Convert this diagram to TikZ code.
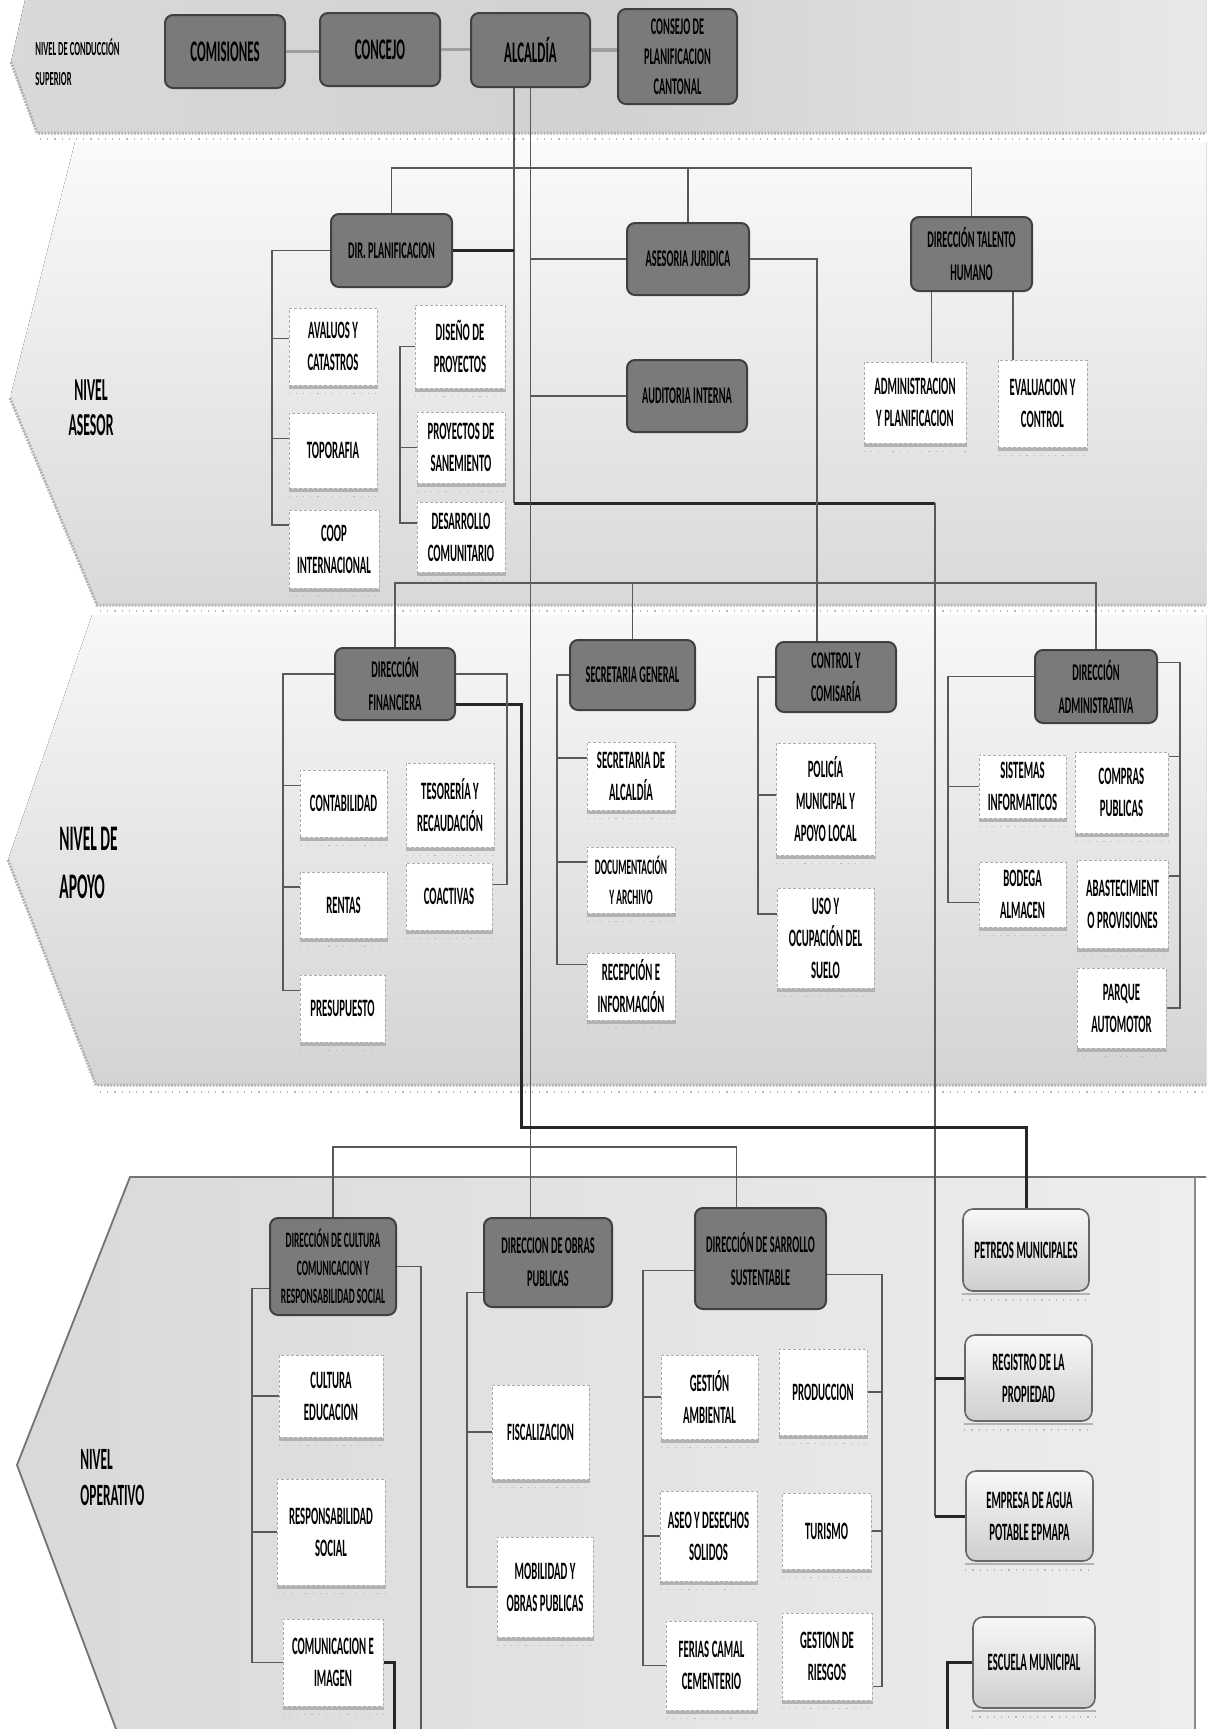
\documentclass[tikz,border=0pt]{standalone}
\usepackage{fontspec}
\setmainfont{Carlito}[FakeStretch=0.43]
\usetikzlibrary{calc}
\tikzset{
 dbox/.style={draw=black!75, line width=1pt, fill=black!52, text=black, rounded corners=4pt, align=center, inner sep=0pt, font=\bfseries\fontsize{12}{16.5}\selectfont},
 tbox/.style={dbox, font=\bfseries\fontsize{15}{18}\selectfont},
 wbox/.style={draw=gray!65, dash pattern=on 1.5pt off 1pt, line width=0.5pt, fill=white, text=black, align=center, inner sep=0pt, font=\bfseries\fontsize{12.5}{16}\selectfont},
 lbox/.style={draw=black!60, line width=0.8pt, top color=gray!6, bottom color=gray!38, text=black, rounded corners=5pt, align=center, inner sep=0pt, font=\bfseries\fontsize{12.5}{16}\selectfont},
 conn/.style={draw=black!65, line width=0.6pt},
 thk/.style={draw=black!85, line width=1.5pt},
 topc/.style={draw=gray!75, line width=1.6pt},
 banddot/.style={draw=gray!60, line width=1.5pt, dash pattern=on 0.8pt off 0.8pt},
 finedot/.style={draw=gray!55, line width=0.8pt, dash pattern=on 0.6pt off 3pt},
 lvl/.style={font=\bfseries\fontsize{16}{17.5}\selectfont, text=black, inner sep=0pt},
}
\newcommand\mkbox[7]{%
 \pgfmathsetmacro\mkW{(#5-#3)*0.5}%
 \pgfmathsetmacro\mkH{(#6-#4)*0.5}%
 \node[#1, minimum width=\mkW pt, minimum height=\mkH pt] (#2) at ({(#3+#5)/2},{(#4+#6)/2}) {#7};}
\newcommand\mkshadow[1]{%
 \draw[gray!60, line width=1.3pt] ([yshift=-1pt]#1.south west) -- ([yshift=-1pt]#1.south east);
 \draw[finedot] ([yshift=-4pt]#1.south west) -- ([yshift=-4pt]#1.south east);}
\newcommand\mkwbox[6]{\mkbox{wbox}{#1}{#2}{#3}{#4}{#5}{#6}\mkshadow{#1}}
\newcommand\mklbox[6]{\mkbox{lbox}{#1}{#2}{#3}{#4}{#5}{#6}\mkshadow{#1}}
\begin{document}
\begin{tikzpicture}[x=0.5pt,y=-0.5pt]
\useasboundingbox (0,0) rectangle (1206,1729);
\fill[white] (0,0) rectangle (1206,1729);
% ---------- bands
\fill[left color=gray!30, right color=gray!18, middle color=gray!36] (25,0) -- (1206,0) -- (1206,133) -- (37,133) -- (11,62) -- cycle;
\draw[banddot] (11,62) -- (37,133) -- (1206,133);
\draw[finedot] (40,139) -- (1206,139);
\fill[top color=gray!4, bottom color=gray!30] (75,142) -- (1206,142) -- (1206,605) -- (97,605) -- (10,398) -- cycle;
\draw[banddot] (10,398) -- (97,605) -- (1206,605);
\draw[finedot] (100,611) -- (1206,611);
\fill[top color=gray!6, bottom color=gray!34] (92,615) -- (1206,615) -- (1206,1085) -- (96,1085) -- (8,860) -- cycle;
\draw[banddot] (8,860) -- (96,1085) -- (1206,1085);
\draw[finedot] (100,1092) -- (1206,1092);
\fill[left color=gray!30, right color=gray!14] (130,1177) -- (1195,1177) -- (1195,1729) -- (116,1729) -- (17,1465) -- cycle;
\draw[black!55, line width=0.9pt] (116,1729) -- (17,1465) -- (130,1177) -- (1206,1177);
\draw[black!45, line width=0.7pt] (1195,1177) -- (1195,1729);
% ---------- level labels
\node[lvl, font=\bfseries\fontsize{10}{15}\selectfont, align=left, anchor=west] (l1) at (35,62) {NIVEL DE CONDUCCIÓN\\SUPERIOR};
\node[lvl, align=center] (l2) at (91,408) {NIVEL\\ASESOR};
\node[lvl, font=\bfseries\fontsize{18}{24}\selectfont, align=left, anchor=west] (l3) at (59,863) {NIVEL DE\\APOYO};
\node[lvl, font=\bfseries\fontsize{15.5}{18}\selectfont, align=left, anchor=west] (l4) at (80,1478) {NIVEL\\OPERATIVO};
% ---------- top level
\mkbox{tbox}{comis}{165}{15}{285}{88}{COMISIONES}
\mkbox{tbox}{concejo}{320}{13}{440}{86}{CONCEJO}
\mkbox{tbox}{alcaldia}{471}{13}{590}{87}{ALCALDÍA}
\mkbox{dbox,font=\bfseries\fontsize{12}{15}\selectfont}{consejo}{618}{9}{737}{104}{CONSEJO DE\\PLANIFICACION\\CANTONAL}
% ---------- asesor
\mkbox{dbox}{dirplan}{331}{214}{452}{287}{DIR. PLANIFICACION}
\mkbox{dbox}{asesoria}{627}{223}{749}{295}{ASESORIA JURIDICA}
\mkbox{dbox}{auditoria}{627}{360}{747}{432}{AUDITORIA INTERNA}
\mkbox{dbox}{dth}{911}{217}{1032}{291}{DIRECCIÓN TALENTO\\HUMANO}
\mkwbox{avaluos}{289}{308}{377}{385}{AVALUOS Y\\CATASTROS}
\mkwbox{topo}{289}{413}{377}{488}{TOPORAFIA}
\mkwbox{coop}{289}{510}{379}{588}{COOP\\INTERNACIONAL}
\mkwbox{diseno}{415}{305}{505}{388}{DISEÑO DE\\PROYECTOS}
\mkwbox{proysan}{417}{412}{505}{483}{PROYECTOS DE\\SANEMIENTO}
\mkwbox{desarr}{417}{502}{505}{572}{DESARROLLO\\COMUNITARIO}
\mkwbox{admplan}{864}{362}{966}{443}{ADMINISTRACION\\Y PLANIFICACION}
\mkwbox{evalctrl}{998}{360}{1087}{447}{EVALUACION Y\\CONTROL}
% ---------- apoyo
\mkbox{dbox}{dirfin}{335}{648}{455}{720}{DIRECCIÓN\\FINANCIERA}
\mkbox{dbox}{secgen}{570}{640}{695}{710}{SECRETARIA GENERAL}
\mkbox{dbox}{control}{776}{642}{896}{712}{CONTROL Y\\COMISARÍA}
\mkbox{dbox}{diradm}{1035}{650}{1157}{723}{DIRECCIÓN\\ADMINISTRATIVA}
\mkwbox{contab}{300}{770}{387}{837}{CONTABILIDAD}
\mkwbox{rentas}{300}{872}{387}{938}{RENTAS}
\mkwbox{presup}{300}{975}{385}{1042}{PRESUPUESTO}
\mkwbox{tesor}{406}{763}{494}{847}{TESORERÍA Y\\RECAUDACIÓN}
\mkwbox{coact}{406}{863}{492}{930}{COACTIVAS}
\mkwbox{secalc}{587}{742}{675}{810}{SECRETARIA DE\\ALCALDÍA}
\mkbox{wbox,font=\bfseries\fontsize{11}{15}\selectfont}{docarch}{587}{847}{675}{913}{DOCUMENTACIÓN\\Y ARCHIVO}
\mkshadow{docarch}
\mkwbox{recep}{587}{953}{675}{1020}{RECEPCIÓN E\\INFORMACIÓN}
\mkwbox{policia}{776}{743}{875}{855}{POLICÍA\\MUNICIPAL Y\\APOYO LOCAL}
\mkwbox{uso}{777}{888}{874}{988}{USO Y\\OCUPACIÓN DEL\\SUELO}
\mkwbox{sistemas}{979}{755}{1066}{818}{SISTEMAS\\INFORMATICOS}
\mkwbox{bodega}{979}{862}{1066}{927}{BODEGA\\ALMACEN}
\mkwbox{compras}{1075}{752}{1168}{833}{COMPRAS\\PUBLICAS}
\mkwbox{abast}{1077}{860}{1168}{948}{ABASTECIMIENT\\O PROVISIONES}
\mkwbox{parque}{1077}{968}{1166}{1048}{PARQUE\\AUTOMOTOR}
% ---------- operativo
\mkbox{dbox,font=\bfseries\fontsize{11}{14}\selectfont}{dircult}{270}{1218}{396}{1315}{DIRECCIÓN DE CULTURA\\COMUNICACION Y\\RESPONSABILIDAD SOCIAL}
\mkbox{dbox}{dirobras}{484}{1218}{612}{1307}{DIRECCION DE OBRAS\\PUBLICAS}
\mkbox{dbox}{dirsarr}{695}{1208}{826}{1309}{DIRECCIÓN DE SARROLLO\\SUSTENTABLE}
\mkwbox{cultedu}{279}{1355}{383}{1437}{CULTURA\\EDUCACION}
\mkwbox{respsoc}{277}{1479}{385}{1585}{RESPONSABILIDAD\\SOCIAL}
\mkwbox{comimg}{283}{1619}{383}{1706}{COMUNICACION E\\IMAGEN}
\mkwbox{fisc}{492}{1385}{589}{1479}{FISCALIZACION}
\mkwbox{movil}{497}{1537}{593}{1637}{MOBILIDAD Y\\OBRAS PUBLICAS}
\mkwbox{gestamb}{661}{1355}{758}{1439}{GESTIÓN\\AMBIENTAL}
\mkwbox{produc}{779}{1349}{867}{1435}{PRODUCCION}
\mkwbox{aseo}{660}{1491}{757}{1581}{ASEO Y DESECHOS\\SOLIDOS}
\mkwbox{turismo}{782}{1493}{871}{1569}{TURISMO}
\mkwbox{ferias}{666}{1621}{757}{1710}{FERIAS CAMAL\\CEMENTERIO}
\mkwbox{riesgos}{782}{1613}{872}{1700}{GESTION DE\\RIESGOS}
\mklbox{petreos}{963}{1209}{1089}{1291}{PETREOS MUNICIPALES}
\mklbox{registro}{965}{1335}{1092}{1421}{REGISTRO DE LA\\PROPIEDAD}
\mklbox{empresa}{966}{1471}{1093}{1561}{EMPRESA DE AGUA\\POTABLE EPMAPA}
\mklbox{escuela}{973}{1617}{1095}{1708}{ESCUELA MUNICIPAL}
% ---------- helper coordinates
\coordinate (vA) at (514,503);
\coordinate (vC) at (935,503);
\coordinate (h1) at (0,168);
\coordinate (vD) at (817,0);
\coordinate (b1) at (272,0);
\coordinate (b2) at (400,0);
\coordinate (h3) at (0,583);
\coordinate (vE) at (521,1127);
\coordinate (b3) at (283,0);
\coordinate (b4) at (507,0);
\coordinate (b5) at (557,0);
\coordinate (b6) at (758,0);
\coordinate (b7) at (948,0);
\coordinate (b8) at (1180,0);
\coordinate (h4) at (0,1147);
\coordinate (b9) at (252,0);
\coordinate (b10) at (467,0);
\coordinate (b11) at (643,0);
\coordinate (b12) at (882,0);
\coordinate (e1) at (421,1729);
\coordinate (e2) at (394,1729);
\coordinate (e3) at (947,1729);
% ---------- connectors: top
\draw[topc] (comis.east) -- (comis.east -| concejo.west);
\draw[topc] (concejo.east) -- (concejo.east -| alcaldia.west);
\draw[topc] (alcaldia.east) -- (alcaldia.east -| consejo.west);
\draw[conn, line width=0.9pt] (alcaldia.south -| vA) -- (vA);
\draw[thk] (vA) -- (vC);
\draw[conn, line width=0.9pt] (vC) -- (empresa.west -| vC);
\draw[thk] (registro.west -| vC) -- (registro.west);
\draw[thk] (empresa.west -| vC) -- (empresa.west);
\draw[conn] (alcaldia.south) -- (alcaldia.south |- dirobras.north);
% asesor
\draw[conn] (dirplan.north) -- (dirplan.north |- h1) -- (dth.north |- h1) -- (dth.north);
\draw[conn] (asesoria.north |- h1) -- (asesoria.north);
\draw[thk] (dirplan.east) -- (dirplan.east -| vA);
\draw[conn] (asesoria.west -| alcaldia.south) -- (asesoria.west);
\draw[conn] (auditoria.west -| alcaldia.south) -- (auditoria.west);
\draw[conn] (asesoria.east) -| (vD |- control.north);
\draw[conn] ([xshift=-20pt]dth.south) -- ([xshift=-20pt]dth.south |- admplan.north);
\draw[conn] ([xshift=20.75pt]dth.south) -- ([xshift=20.75pt]dth.south |- evalctrl.north);
\draw[conn] (dirplan.west) -| ([yshift=12pt]coop.west -| b1) -- ([yshift=12pt]coop.west);
\draw[conn] ([yshift=4pt]avaluos.west) -- ([yshift=4pt]avaluos.west -| b1);
\draw[conn] ([yshift=6pt]topo.west) -- ([yshift=6pt]topo.west -| b1);
\draw[conn] (diseno.west) -- (diseno.west -| b2) -- ([yshift=7pt]desarr.west -| b2) -- ([yshift=7pt]desarr.west);
\draw[conn] (proysan.west) -- (proysan.west -| b2);
% apoyo
\draw[conn] (dirfin.north) -- (dirfin.north |- h3) -- (diradm.north |- h3) -- (diradm.north);
\draw[conn] (secgen.north |- h3) -- (secgen.north);
\draw[thk] ([yshift=-10pt]dirfin.east) -| (vE) -| (petreos.north);
\draw[conn] ([yshift=5pt]dirfin.west) -| ([yshift=9pt]presup.west -| b3) -- ([yshift=9pt]presup.west);
\draw[conn] ([yshift=9pt]contab.west) -- ([yshift=9pt]contab.west -| b3);
\draw[conn] ([yshift=9pt]rentas.west) -- ([yshift=9pt]rentas.west -| b3);
\draw[conn] ([yshift=5pt]dirfin.east) -| ([yshift=6pt]coact.east -| b4) -- ([yshift=6pt]coact.east);
\draw[conn] (secgen.west) -| ([yshift=11pt]recep.west -| b5) -- ([yshift=11pt]recep.west);
\draw[conn] ([yshift=9pt]secalc.west) -- ([yshift=9pt]secalc.west -| b5);
\draw[conn] ([yshift=9pt]docarch.west) -- ([yshift=9pt]docarch.west -| b5);
\draw[conn] (control.west) -| ([yshift=12pt]uso.west -| b6) -- ([yshift=12pt]uso.west);
\draw[conn] ([yshift=2pt]policia.west) -- ([yshift=2pt]policia.west -| b6);
\draw[conn] ([yshift=5pt]diradm.west) -| ([yshift=-4pt]bodega.west -| b7) -- ([yshift=-4pt]bodega.west);
\draw[conn] (sistemas.west) -- (sistemas.west -| b7);
\draw[conn] ([yshift=12pt]diradm.east) -| (parque.east -| b8) -- (parque.east);
\draw[conn] ([yshift=18pt]compras.east) -- ([yshift=18pt]compras.east -| b8);
\draw[conn] ([yshift=14pt]abast.east) -- ([yshift=14pt]abast.east -| b8);
% operativo
\draw[conn] (dircult.north) -- (dircult.north |- h4) -- ([xshift=-12pt]dirsarr.north |- h4) -- ([xshift=-12pt]dirsarr.north);
\draw[conn] ([yshift=-11pt]dircult.west) -| (comimg.west -| b9) -- (comimg.west);
\draw[conn] (cultedu.west) -- (cultedu.west -| b9);
\draw[conn] (respsoc.west) -- (respsoc.west -| b9);
\draw[conn, line width=0.9pt] (dircult.east) -| (e1);
\draw[thk] (comimg.east) -| (e2);
\draw[conn] ([yshift=-15pt]dirobras.west) -| (movil.west -| b10) -- (movil.west);
\draw[conn] (fisc.west) -- (fisc.west -| b10);
\draw[conn] ([yshift=-6pt]dirsarr.west) -| (ferias.west -| b11) -- (ferias.west);
\draw[conn] (gestamb.west) -- (gestamb.west -| b11);
\draw[conn] (aseo.west) -- (aseo.west -| b11);
\draw[conn] ([yshift=-8pt]dirsarr.east) -| ([yshift=-15pt]riesgos.east -| b12) -- ([yshift=-15pt]riesgos.east);
\draw[conn] (produc.east) -- (produc.east -| b12);
\draw[conn] (turismo.east) -- (turismo.east -| b12);
\draw[thk] (escuela.west) -| (e3);
\end{tikzpicture}
\end{document}
